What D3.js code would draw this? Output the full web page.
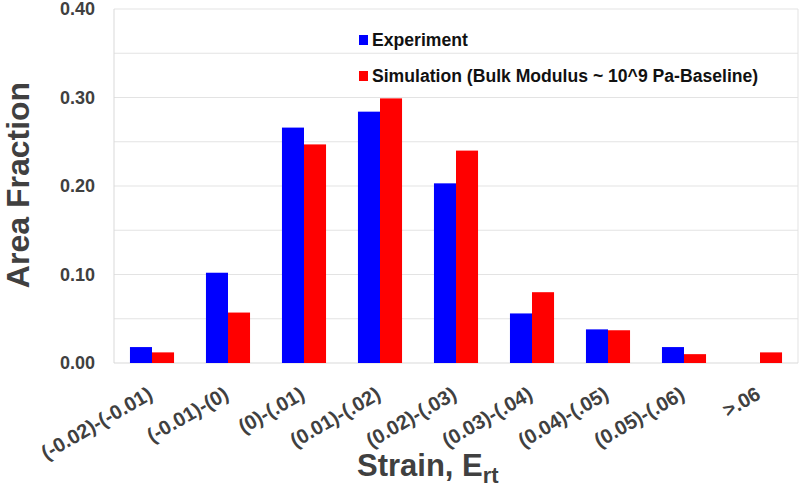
<!DOCTYPE html>
<html>
<head>
<meta charset="utf-8">
<script src="https://cdn.jsdelivr.net/npm/d3@7"></script>
<style>
  body { margin: 0; background: #fff; }
  svg text { font-family: "Liberation Sans", Arial, sans-serif; font-weight: bold; }
</style>
</head>
<body>
<div id="chart"></div>
<script>
// categories + series
var categories = ['(-0.02)-(-0.01)', '(-0.01)-(0)', '(0)-(.01)', '(0.01)-(.02)', '(0.02)-(.03)',
                  '(0.03)-(.04)', '(0.04)-(.05)', '(0.05)-(.06)', '>.06'];
var experiment = [0.018, 0.102, 0.266, 0.284, 0.203, 0.056, 0.038, 0.018, 0];
var simulation = [0.012, 0.057, 0.247, 0.299, 0.240, 0.080, 0.037, 0.010, 0.012];
var seriesNames = ['Experiment', 'Simulation (Bulk Modulus ~ 10^9 Pa-Baseline)'];
var seriesColors = ['#0000ff', '#ff0000'];
var yTicks = [0, 0.1, 0.2, 0.3, 0.4];
var gridTicks = [0.05, 0.1, 0.15, 0.2, 0.25, 0.3, 0.35, 0.4];

var W = 800, H = 489;
var m = {top: 9, right: 2, bottom: 126, left: 114};
var w = W - m.left - m.right, h = H - m.top - m.bottom;

var svg = d3.select('#chart').append('svg')
    .attr('width', W).attr('height', H);

var g = svg.append('g').attr('transform', 'translate(' + m.left + ',' + m.top + ')');

var x0 = d3.scaleBand().domain(categories).range([0, w])
    .paddingInner(0.42).paddingOuter(0.21);
var x1 = d3.scaleBand().domain([0, 1]).range([0, x0.bandwidth()]);
var y = d3.scaleLinear().domain([0, 0.4]).range([h, 0]);

// grid
g.selectAll('.grid').data(gridTicks).enter().append('line')
    .attr('class', 'grid')
    .attr('x1', 0).attr('x2', w)
    .attr('y1', function(d){ return y(d); }).attr('y2', function(d){ return y(d); })
    .attr('stroke', '#e3e3e3').attr('stroke-width', 1);

// plot frame
g.append('line').attr('x1', w).attr('x2', w).attr('y1', 0).attr('y2', h)
    .attr('stroke', '#e3e3e3');
g.append('line').attr('x1', 0).attr('x2', 0).attr('y1', 0).attr('y2', h)
    .attr('stroke', '#d9d9d9');
g.append('line').attr('x1', 0).attr('x2', w).attr('y1', h).attr('y2', h)
    .attr('stroke', '#d9d9d9');

// bars
var rows = categories.map(function(c, i){ return {cat: c, vals: [experiment[i], simulation[i]]}; });
var grp = g.selectAll('.grp').data(rows).enter().append('g')
    .attr('transform', function(d){ return 'translate(' + x0(d.cat) + ',0)'; });
grp.selectAll('rect').data(function(d){ return d.vals; }).enter().append('rect')
    .attr('x', function(d, i){ return x1(i); })
    .attr('width', x1.bandwidth())
    .attr('y', function(d){ return y(d); })
    .attr('height', function(d){ return h - y(d); })
    .attr('fill', function(d, i){ return seriesColors[i]; });

// y axis
var yAxis = g.append('g').call(d3.axisLeft(y).tickValues(yTicks).tickFormat(d3.format('.2f')).tickSize(0).tickPadding(19));
yAxis.select('.domain').remove();
yAxis.selectAll('text').attr('font-size', 18).attr('fill', '#404040');

// x axis, labels slanted
var xAxis = g.append('g').attr('transform', 'translate(0,' + h + ')')
    .call(d3.axisBottom(x0).tickSize(0));
xAxis.select('.domain').remove();
xAxis.selectAll('text')
    .attr('font-size', 20).attr('fill', '#404040')
    .attr('text-anchor', 'end')
    .attr('dy', null).attr('y', 0)
    .attr('transform', 'translate(2,35) rotate(-30)');

// axis titles
svg.append('text')
    .attr('transform', 'translate(29,185) rotate(-90)')
    .attr('text-anchor', 'middle')
    .attr('font-size', 32).attr('fill', '#404040')
    .text('Area Fraction');

var xt = svg.append('text')
    .attr('x', 357).attr('y', 476)
    .attr('font-size', 31).attr('fill', '#404040');
xt.append('tspan').text('Strain, E');
xt.append('tspan').attr('font-size', 22).attr('dy', 7).text('rt');

// legend
var leg = svg.append('g').attr('transform', 'translate(359,46)');
seriesNames.forEach(function(n, i){
    var r = leg.append('g').attr('transform', 'translate(0,' + (i * 36) + ')');
    r.append('rect').attr('y', -11).attr('width', 9).attr('height', 10).attr('fill', seriesColors[i]);
    r.append('text').attr('x', 13).attr('y', 0).attr('font-size', 17.6).attr('fill', '#111').text(n);
});
</script>
</body>
</html>
